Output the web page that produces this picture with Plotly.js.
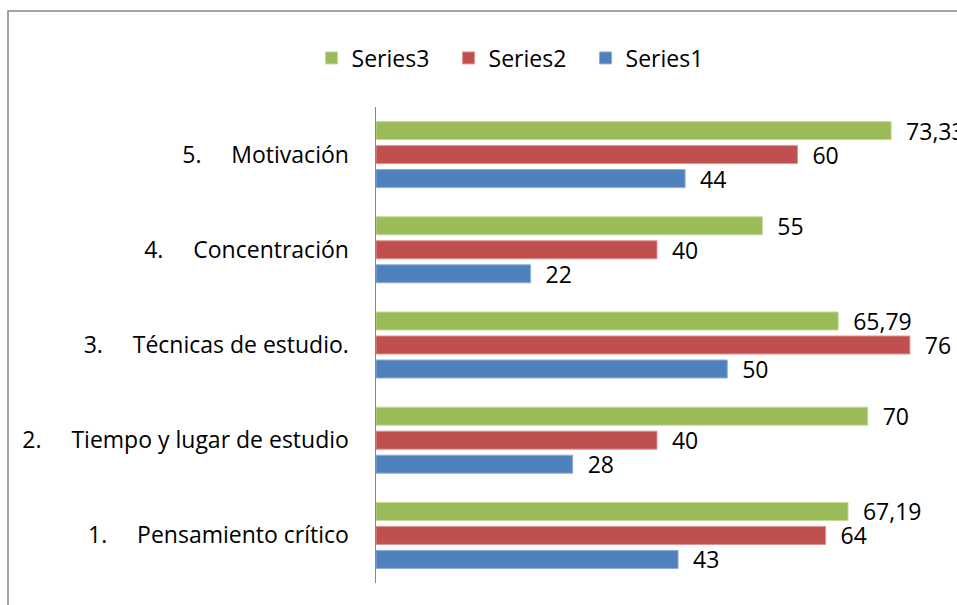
<!DOCTYPE html>
<html><head><meta charset="utf-8">
<script src="https://cdn.plot.ly/plotly-3.0.1.min.js"></script>
<style>html,body{margin:0;padding:0;background:#fff;}#chart{width:957px;height:605px;}</style>
</head><body><div id="chart"></div>
<script>
const categories = [
  "1.\u00a0\u00a0\u00a0\u00a0\u00a0Pensamiento crítico",
  "2.\u00a0\u00a0\u00a0\u00a0\u00a0Tiempo y lugar de estudio",
  "3.\u00a0\u00a0\u00a0\u00a0\u00a0Técnicas de estudio.",
  "4.\u00a0\u00a0\u00a0\u00a0\u00a0Concentración",
  "5.\u00a0\u00a0\u00a0\u00a0\u00a0Motivación"
];
const series1 = [43, 28, 50, 22, 44];
const series2 = [64, 40, 76, 40, 60];
const series3 = [67.19, 70, 65.79, 55, 73.33];
const seriesNames = ["Series1", "Series2", "Series3"];
const colors = ["#4F81BD", "#C0504D", "#9BBB59"];
const lineColors = ["#8DAEDA", "#E09290", "#C3DA97"];

const fmt = v => "\u00a0\u00a0" + String(v).replace('.', ',');
const font = "'Open Sans', Lato, sans-serif";

const traces = [series1, series2, series3].map((vals, i) => ({
  type: 'bar', orientation: 'h', name: seriesNames[i],
  y: categories, x: vals,
  text: vals.map(fmt), textposition: 'outside', cliponaxis: false,
  constraintext: 'none',
  textfont: {size: 23, color: '#000', family: font},
  marker: {color: colors[i], line: {color: lineColors[i], width: 1}},
  hoverinfo: 'x+y'
}));

const layout = {
  width: 957, height: 605,
  margin: {l: 376, r: 19, t: 107, b: 22},
  paper_bgcolor: '#fff', plot_bgcolor: '#fff',
  barmode: 'group', bargap: 0.244, bargroupgap: 0.25,
  font: {family: font, size: 23, color: '#000'},
  showlegend: true,
  legend: {orientation: 'h', traceorder: 'reversed', x: 0.251, xanchor: 'center',
           y: 1.103, yanchor: 'middle', font: {size: 23, family: font},
           itemwidth: 30, entrywidth: 92, entrywidthmode: 'pixels'},
  xaxis: {range: [0, 80], showgrid: false, zeroline: false, showline: false,
          showticklabels: false, ticks: ''},
  yaxis: {type: 'category', showgrid: false, zeroline: false, showline: true,
          linecolor: '#868686', linewidth: 1.5, ticks: '', ticklabelstandoff: 21,
          tickfont: {size: 23, family: font, color: '#000'}},
  shapes: [{type: 'rect', xref: 'paper', yref: 'paper',
            x0: -0.6548, x1: 2, y0: -1, y1: 1.2017,
            line: {color: '#868686', width: 1.5}, fillcolor: 'rgba(0,0,0,0)', layer: 'below'}]
};

Plotly.newPlot('chart', traces, layout, {displayModeBar: false, staticPlot: true});
</script></body></html>
